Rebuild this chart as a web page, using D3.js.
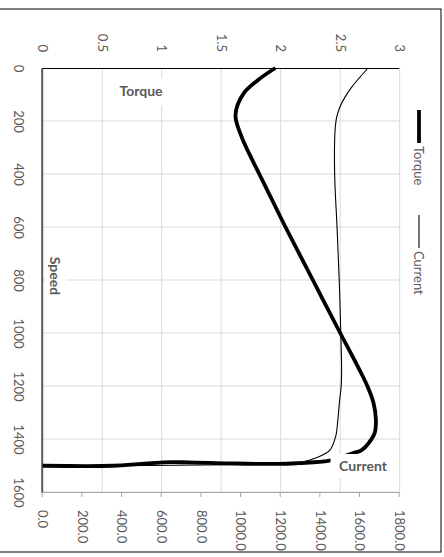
<!DOCTYPE html>
<html>
<head>
<meta charset="utf-8">
<script src="https://cdn.jsdelivr.net/npm/d3@7"></script>
<style>
body { margin: 0; background: #fff; }
svg { display: block; }
text { font-family: Lato, "Liberation Sans", sans-serif; }
</style>
</head>
<body>
<script>
// values (the whole chart is turned a quarter turn clockwise)
var torqueSpeed = [0, 45, 95, 177, 258, 346, 400, 500, 600, 800, 1000, 1137, 1202, 1264, 1328, 1377, 1415, 1442, 1453, 1470, 1483, 1491, 1494, 1492, 1488, 1488, 1495, 1501, 1501];
var torqueValue = [1.955, 1.81, 1.69, 1.62, 1.67, 1.76, 1.82, 1.93, 2.04, 2.27, 2.50, 2.66, 2.73, 2.78, 2.80, 2.79, 2.74, 2.68, 2.61, 2.50, 2.40, 2.15, 1.99, 1.575, 1.22, 1.01, 0.80, 0.59, 0];
var currentSpeed = [0, 35, 73, 110, 148, 186, 237, 400, 600, 800, 1000, 1137, 1200, 1262, 1328, 1388, 1442, 1471, 1487, 1492, 1497, 1500, 1501];
var currentValue = [1641, 1599, 1557, 1524, 1498, 1482, 1474, 1472, 1484, 1495, 1503, 1507, 1505, 1496, 1488, 1478, 1448, 1380, 1305, 1230, 945, 541, 0];

var speedTicks = [0, 200, 400, 600, 800, 1000, 1200, 1400, 1600];
var torqueTicks = [0, 0.5, 1, 1.5, 2, 2.5, 3];
var currentTicks = [0, 200, 400, 600, 800, 1000, 1200, 1400, 1600, 1800];

var width = 444;
var height = 557;
var labelColor = "#595959";

var svg = d3.select("body").append("svg")
    .attr("width", width)
    .attr("height", height);

// chart drawn upright, then turned 90deg clockwise
var g = svg.append("g").attr("transform", "translate(" + width + ",0) rotate(90)");

var x = d3.scaleLinear().domain([0, 1600]).range([68, 492]);
var yT = d3.scaleLinear().domain([0, 3]).range([401.3, 44.3]);
var yC = d3.scaleLinear().domain([0, 1800]).range([401.3, 44.3]);

// outer chart border
g.append("rect")
    .attr("x", 9).attr("y", 3)
    .attr("width", 543).attr("height", 470)
    .attr("fill", "none")
    .attr("stroke", "#000")
    .attr("stroke-width", 1);

// gridlines
g.append("g").selectAll("line")
    .data(speedTicks.filter(function (d) { return d > 0; }))
    .join("line")
    .attr("x1", function (d) { return x(d); })
    .attr("x2", function (d) { return x(d); })
    .attr("y1", yT(0)).attr("y2", yT(3))
    .attr("stroke", "#d9d9d9");
g.append("g").selectAll("line")
    .data(torqueTicks.filter(function (d) { return d > 0; }))
    .join("line")
    .attr("x1", x(0)).attr("x2", x(1600))
    .attr("y1", function (d) { return yT(d); })
    .attr("y2", function (d) { return yT(d); })
    .attr("stroke", "#d9d9d9");

// speed axis (ends up on the left)
var axS = g.append("g")
    .attr("transform", "translate(0," + yT(0) + ")")
    .call(d3.axisBottom(x).tickValues(speedTicks).tickSize(0).tickSizeOuter(0).tickPadding(19).tickFormat(d3.format("d")));
axS.select(".domain").attr("stroke", labelColor).attr("stroke-width", 2);

// torque axis (ends up on top)
var axT = g.append("g")
    .attr("transform", "translate(" + x(0) + ",0)")
    .call(d3.axisLeft(yT).tickValues(torqueTicks).tickSize(0).tickSizeOuter(0).tickPadding(16).tickFormat(d3.format("")));
axT.select(".domain").attr("stroke", "#000").attr("stroke-width", 1);

// current axis (ends up at the bottom)
var axC = g.append("g")
    .attr("transform", "translate(" + x(1600) + ",0)")
    .call(d3.axisRight(yC).tickValues(currentTicks).tickSize(5).tickSizeOuter(0).tickPadding(13).tickFormat(d3.format(".1f")));
axC.select(".domain").attr("stroke", "#a6a6a6");
axC.selectAll(".tick line").attr("stroke", "#a6a6a6");

g.selectAll(".tick text")
    .attr("fill", labelColor)
    .style("font-size", "13px");

// series
var torqueLine = d3.line()
    .x(function (i) { return x(torqueSpeed[i]); })
    .y(function (i) { return yT(torqueValue[i]); })
    .curve(d3.curveCatmullRom.alpha(0.5));
var currentLine = d3.line()
    .x(function (i) { return x(currentSpeed[i]); })
    .y(function (i) { return yC(currentValue[i]); })
    .curve(d3.curveCatmullRom.alpha(0.5));

g.append("path")
    .attr("d", currentLine(d3.range(currentSpeed.length)))
    .attr("fill", "none")
    .attr("stroke", "#000")
    .attr("stroke-width", 1.1);
g.append("path")
    .attr("d", torqueLine(d3.range(torqueSpeed.length)))
    .attr("fill", "none")
    .attr("stroke", "#000")
    .attr("stroke-width", 3.8)
    .attr("stroke-linejoin", "round");

// legend
var legend = [["Torque", 110, 3.8], ["Current", 215, 1.1]];
legend.forEach(function (l) {
    g.append("line")
        .attr("x1", l[1]).attr("x2", l[1] + 33)
        .attr("y1", 25).attr("y2", 25)
        .attr("stroke", "#000")
        .attr("stroke-width", l[2]);
    g.append("text")
        .attr("x", l[1] + 36).attr("y", 25)
        .attr("dy", "0.35em")
        .attr("fill", labelColor)
        .style("font-size", "13px")
        .text(l[0]);
});

// axis titles sit inside the plot on white boxes (screen coords)
var titles = [
    { t: "Torque", cx: 141, cy: 91.5, w: 62, h: 28, rot: 0 },
    { t: "Current", cx: 363, cy: 466, w: 65, h: 24, rot: 0 },
    { t: "Speed", cx: 55, cy: 276, w: 20, h: 60, rot: 90 }
];
titles.forEach(function (d) {
    svg.append("rect")
        .attr("x", d.cx - d.w / 2 + (d.rot ? 1 : 0)).attr("y", d.cy - d.h / 2)
        .attr("width", d.w).attr("height", d.h)
        .attr("fill", "#fff");
    svg.append("text")
        .attr("transform", "translate(" + d.cx + "," + d.cy + ") rotate(" + d.rot + ")")
        .attr("text-anchor", "middle")
        .attr("dy", "0.35em")
        .attr("fill", labelColor)
        .style("font-size", "14px")
        .style("font-weight", "bold")
        .text(d.t);
});
</script>
</body>
</html>
